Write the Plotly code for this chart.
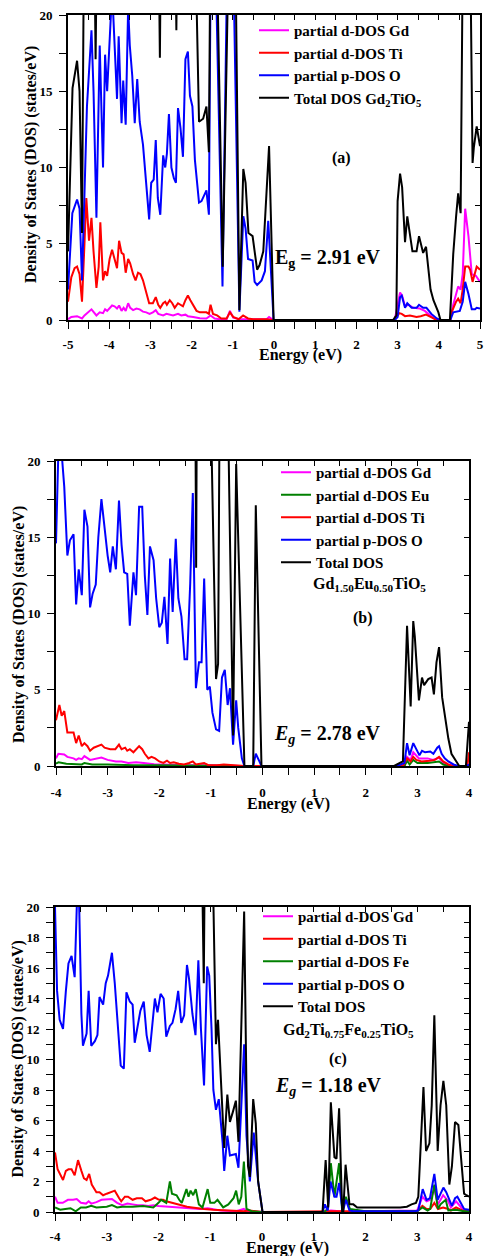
import plotly.graph_objects as go

W, H = 484, 1256
SERIF = "Liberation Serif"

# ---------------- Panel (a) Gd2TiO5 ----------------
a_gd_e = [-5.0, -4.92, -4.78, -4.66, -4.6, -4.49, -4.43, -4.31, -4.23, -4.15, -4.10, -4.05, -3.99, -3.93, -3.87, -3.81, -3.76, -3.70, -3.65, -3.60, -3.54, -3.49, -3.42, -3.34, -3.26, -3.18, -3.10, -3.02, -2.94, -2.87, -2.81, -2.69, -2.61, -2.53, -2.45, -2.33, -2.25, -2.15, -2.09, -1.96, -1.80, -1.64, -1.54, -1.44, -1.32, -1.15, -1.07, -0.99, -0.83, -0.18, -0.12, -0.02, 2.93, 3.06, 3.11, 3.18, 3.26, 3.38, 3.54, 3.66, 3.785, 3.91, 3.99, 4.28, 4.35, 4.47, 4.53, 4.58, 4.64, 4.72, 4.80, 4.90, 5.0]
a_gd = [0.05, 0.2, 0.25, 0.1, 0.3, 0.6, 0.7, 0.3, 0.5, 0.45, 0.7, 0.6, 0.8, 0.95, 0.9, 0.75, 0.95, 0.6, 0.8, 0.6, 1.1, 0.8, 0.65, 0.75, 0.7, 0.55, 0.5, 0.4, 0.5, 0.65, 0.4, 0.3, 0.4, 0.35, 0.3, 0.4, 0.3, 0.35, 0.25, 0.2, 0.12, 0.1, 0.3, 0.1, 0.05, 0.05, 0.6, 0.15, 0.05, 0.05, 0.2, 0.0, 0.0, 1.8, 1.6, 0.9, 1.0, 0.8, 0.75, 0.6, 0.3, 0.05, 0.0, 0.0, 1.0, 2.2, 2.0, 3.0, 7.3, 5.5, 3.0, 2.9, 2.5]

a_ti_e = [-5.0, -4.92, -4.84, -4.78, -4.72, -4.66, -4.6, -4.555, -4.49, -4.43, -4.38, -4.31, -4.255, -4.215, -4.15, -4.10, -4.05, -3.99, -3.93, -3.87, -3.81, -3.76, -3.70, -3.65, -3.60, -3.54, -3.49, -3.42, -3.36, -3.30, -3.24, -3.18, -3.10, -3.03, -2.94, -2.87, -2.81, -2.76, -2.69, -2.64, -2.60, -2.53, -2.47, -2.41, -2.33, -2.27, -2.21, -2.15, -2.09, -2.03, -1.96, -1.88, -1.80, -1.72, -1.64, -1.58, -1.54, -1.48, -1.38, -1.28, -1.15, -1.07, -0.99, -0.86, -0.75, -0.63, -0.51, -0.18, -0.02, 2.93, 3.04, 3.10, 3.18, 3.30, 3.46, 3.56, 3.69, 3.80, 3.91, 3.95, 4.28, 4.31, 4.42, 4.47, 4.53, 4.58, 4.64, 4.72, 4.76, 4.82, 4.85, 4.92, 5.0]
a_ti = [1.2, 2.8, 3.4, 3.5, 3.0, 1.2, 5.0, 8.0, 5.2, 6.7, 4.5, 2.1, 3.5, 6.4, 2.6, 3.2, 2.9, 4.0, 4.6, 4.0, 3.4, 5.2, 4.4, 4.3, 3.1, 4.0, 3.7, 3.0, 2.6, 3.1, 3.0, 2.6, 1.8, 1.1, 1.1, 1.5, 1.0, 0.8, 1.1, 1.2, 1.0, 1.3, 1.1, 0.8, 1.1, 1.0, 0.9, 1.3, 1.6, 1.3, 1.0, 0.6, 0.5, 0.5, 0.5, 0.4, 1.0, 0.4, 0.3, 0.1, 0.1, 0.5, 0.2, 0.05, 0.3, 0.1, 0.05, 0.05, 0.0, 0.0, 0.45, 0.4, 0.25, 0.3, 0.2, 0.25, 0.35, 0.2, 0.05, 0.0, 0.0, 0.5, 1.2, 1.4, 1.1, 2.0, 3.5, 3.5, 3.3, 2.5, 2.8, 3.5, 3.3]

a_o_e = [-5.0, -4.895, -4.78, -4.72, -4.66, -4.6, -4.54, -4.43, -4.38, -4.31, -4.23, -4.15, -4.10, -4.05, -3.95, -3.91, -3.81, -3.77, -3.70, -3.66, -3.60, -3.54, -3.50, -3.44, -3.38, -3.32, -3.26, -3.18, -3.10, -3.03, -2.98, -2.92, -2.87, -2.82, -2.76, -2.69, -2.64, -2.60, -2.55, -2.49, -2.43, -2.38, -2.33, -2.27, -2.21, -2.15, -2.09, -2.04, -1.98, -1.92, -1.82, -1.76, -1.64, -1.58, -1.52, -1.47, -1.25, -1.10, -1.03, -0.84, -0.745, -0.69, -0.63, -0.52, -0.47, -0.41, -0.30, -0.22, -0.14, -0.01, 2.93, 3.0, 3.06, 3.10, 3.18, 3.235, 3.34, 3.46, 3.52, 3.62, 3.70, 3.82, 3.95, 4.04, 4.28, 4.35, 4.51, 4.58, 4.64, 4.72, 4.80, 4.88, 4.92, 5.0]
a_o = [2.0, 7.0, 7.9, 7.3, 2.6, 9.0, 14.0, 19.0, 15.0, 6.7, 18.0, 10.0, 17.4, 15.0, 20.5, 20.5, 14.5, 18.6, 12.9, 15.7, 12.8, 20.5, 18.0, 16.0, 12.9, 15.8, 13.0, 11.5, 9.0, 6.6, 9.0, 9.2, 11.8, 8.0, 6.9, 10.8, 10.0, 10.9, 13.5, 10.0, 9.3, 9.0, 13.9, 12.6, 10.7, 17.1, 17.6, 14.7, 14.0, 10.5, 7.7, 7.8, 8.5, 6.9, 30, 30, 2.2, 30, 30, 0.55, 6.8, 6.0, 4.0, 3.9, 2.5, 2.3, 2.6, 3.2, 6.5, 0.0, 0.0, 0.2, 1.5, 1.6, 0.8, 1.1, 0.8, 0.8, 1.0, 0.8, 0.8, 0.4, 0.1, 0.0, 0.0, 0.5, 0.6, 1.2, 2.5, 1.7, 0.7, 0.7, 0.8, 0.75]

a_tot_e = [-5.0, -4.89, -4.78, -4.72, -4.66, -4.6, -4.38, -4.33, -4.28, -2.82, -2.77, -2.73, -2.42, -2.37, -2.33, -1.95, -1.82, -1.72, -1.64, -1.58, -1.53, -1.43, -1.245, -1.06, -0.96, -0.84, -0.745, -0.69, -0.62, -0.52, -0.41, -0.35, -0.26, -0.12, -0.01, 2.89, 2.97, 3.0, 3.06, 3.11, 3.18, 3.235, 3.36, 3.46, 3.52, 3.62, 3.69, 3.80, 3.87, 3.99, 4.04, 4.27, 4.35, 4.42, 4.47, 4.53, 4.60, 4.74, 4.82, 4.85, 4.92, 5.0]
a_tot = [4.5, 15.2, 17.0, 15.0, 5.7, 30, 30, 17.1, 30, 30, 17.2, 30, 30, 19.0, 30, 30, 13.0, 13.2, 14.0, 11.0, 30, 30, 3.5, 30, 30, 0.65, 9.9, 9.0, 5.7, 5.5, 3.3, 3.6, 4.5, 11.4, 0.0, 0.0, 0.3, 7.8, 9.6, 8.7, 5.1, 6.8, 4.5, 4.5, 5.5, 4.4, 4.8, 2.0, 1.3, 0.5, 0.0, 0.0, 4.3, 6.8, 8.3, 7.0, 30, 30, 10.3, 11.3, 12.7, 11.4]

# ---------------- Panel (b) Gd1.50Eu0.50TiO5 ----------------
b_gd_e = [-4.0, -3.955, -3.84, -3.78, -3.66, -3.61, -3.56, -3.50, -3.45, -3.39, -3.34, -3.12, -3.0, -2.84, -2.73, -2.6, -2.45, -2.3, -2.1, -1.9, -1.5, -1.0, -0.4, 2.75, 2.80, 2.87, 2.92, 3.03, 3.2, 3.3, 3.42, 3.5, 3.6, 3.7, 4.0]
b_gd = [0.5, 0.8, 0.75, 0.6, 0.5, 0.4, 0.5, 0.45, 0.65, 0.5, 0.4, 0.55, 0.4, 0.3, 0.3, 0.2, 0.25, 0.2, 0.12, 0.1, 0.05, 0.05, 0.0, 0.0, 0.6, 0.4, 0.9, 0.5, 0.5, 0.4, 0.55, 0.2, 0.05, 0.0, 0.0]

b_eu_e = [-4.0, -3.95, -3.8, -3.5, -3.45, -3.3, -3.0, -2.5, -2.0, -1.0, -0.5, 2.75, 2.80, 2.85, 2.92, 3.0, 3.2, 3.42, 3.5, 3.6, 4.0]
b_eu = [0.15, 0.25, 0.15, 0.1, 0.2, 0.1, 0.1, 0.05, 0.05, 0.02, 0.0, 0.0, 0.35, 0.1, 0.4, 0.2, 0.2, 0.3, 0.1, 0.0, 0.0]

b_ti_e = [-4.0, -3.975, -3.935, -3.89, -3.84, -3.78, -3.73, -3.66, -3.61, -3.56, -3.50, -3.45, -3.39, -3.34, -3.27, -3.21, -3.12, -3.06, -2.95, -2.85, -2.78, -2.73, -2.66, -2.62, -2.57, -2.50, -2.45, -2.39, -2.33, -2.28, -2.21, -2.15, -2.08, -2.0, -1.92, -1.85, -1.79, -1.72, -1.62, -1.52, -1.42, -1.35, -1.29, -1.21, -1.13, -1.05, -0.88, -0.75, -0.57, -0.35, 2.72, 2.80, 2.87, 2.92, 2.98, 3.08, 3.24, 3.34, 3.42, 3.50, 3.60, 3.69, 3.97, 4.0]
b_ti = [3.0, 3.4, 4.0, 3.3, 3.6, 2.2, 2.2, 2.2, 1.5, 2.0, 1.3, 1.5, 1.3, 1.0, 1.2, 1.3, 1.4, 1.2, 1.1, 1.1, 1.4, 1.1, 1.2, 1.0, 1.1, 0.9, 1.1, 1.3, 1.1, 0.8, 0.5, 0.6, 0.5, 0.3, 0.2, 0.35, 0.2, 0.25, 0.15, 0.1, 0.2, 0.3, 0.1, 0.15, 0.2, 0.05, 0.05, 0.1, 0.05, 0.0, 0.0, 0.5, 0.3, 0.6, 0.4, 0.3, 0.35, 0.4, 0.6, 0.3, 0.1, 0.0, 0.0, 0.9]

b_o_e = [-4.0, -3.955, -3.89, -3.84, -3.78, -3.73, -3.66, -3.61, -3.56, -3.50,
         -3.45, -3.39, -3.34, -3.29, -3.23, -3.18, -3.12, -3.06, -3.0, -2.95,
         -2.90, -2.84, -2.78, -2.73, -2.68, -2.62, -2.57, -2.50, -2.45, -2.39,
         -2.33, -2.28, -2.23, -2.18, -2.11, -2.06, -2.0, -1.95, -1.90, -1.84,
         -1.79, -1.74, -1.68, -1.63, -1.57, -1.51, -1.46, -1.40, -1.35, -1.29,
         -1.23, -1.18, -1.13, -1.07, -1.02, -0.97, -0.90, -0.84, -0.785, -0.73,
         -0.675, -0.63, -0.57, -0.51, -0.47, -0.40, -0.35, -0.18, -0.13, -0.06,
         -0.02, 2.60, 2.66, 2.75, 2.80, 2.85, 2.92, 2.97, 3.04, 3.09,
         3.15, 3.25, 3.31, 3.385, 3.42, 3.47, 3.53, 3.60, 3.70, 3.79,
         3.95, 4.0]
b_o = [14.6, 20.5, 20.5, 18.3, 13.8, 14.8, 15.2, 10.6, 12.9, 11.2,
       16.8, 15.7, 10.4, 11.3, 11.9, 15.0, 17.5, 15.5, 13.8, 12.7,
       14.4, 12.9, 17.4, 14.5, 12.7, 12.6, 9.2, 12.7, 11.2, 17.0,
       17.0, 12.5, 9.9, 14.4, 13.5, 11.0, 9.1, 9.4, 11.1, 8.0,
       13.6, 10.1, 14.9, 11.0, 9.8, 7.0, 7.0, 12.0, 17.9, 5.1,
       6.8, 6.8, 12.3, 5.0, 5.2, 3.5, 2.4, 2.3, 5.8, 6.3,
       4.0, 5.1, 1.4, 4.3, 2.5, 0.5, 0.0, 0.0, 0.8, 0.3,
       0.0, 0.0, 0.1, 0.2, 1.5, 0.7, 1.5, 1.2, 0.7, 1.0,
       0.9, 0.95, 0.8, 1.2, 1.3, 0.8, 0.5, 0.3, 0.1, 0.0,
       0.0, 0.1]

b_tot_e = [-4.0, -1.31, -1.285, -1.265, -1.04, -0.90, -0.86, -0.82, -0.70, -0.57, -0.51, -0.35, -0.18, -0.13, -0.02, 2.55, 2.66, 2.72, 2.80, 2.87, 2.92, 2.95, 3.03, 3.09, 3.13, 3.21, 3.275, 3.32, 3.37, 3.42, 3.48, 3.55, 3.60, 3.66, 3.72, 3.81, 3.94, 4.0]
b_tot = [30, 30, 13.0, 30, 30, 5.7, 6.7, 30, 30, 2.0, 19.8, 0.0, 0.0, 17.1, 0.0, 0.0, 0.2, 0.3, 9.2, 3.9, 9.5, 8.5, 4.3, 5.8, 5.3, 5.7, 5.8, 4.7, 6.8, 7.8, 4.5, 2.8, 1.8, 0.8, 0.5, 0.0, 0.0, 2.9]

# ---------------- Panel (c) Gd2Ti0.75Fe0.25TiO5 ----------------
c_gd_e = [-4.0, -3.95, -3.85, -3.75, -3.65, -3.58, -3.5, -3.4, -3.35, -3.3, -3.2, -3.1, -2.9, -2.8, -2.7, -2.6, -2.5, -2.4, -2.3, -2.2, -2.1, -2.0, -1.8, -1.6, -1.4, -1.2, -1.05, -0.8, -0.5, -0.35, -0.3, 0.0, 1.2, 1.33, 1.5, 1.6, 2.0, 3.0, 3.1, 3.18, 3.25, 3.33, 3.4, 3.5, 3.6, 3.65, 3.75, 3.82, 3.9, 4.0]
c_gd = [1.0, 0.6, 0.6, 0.8, 0.8, 0.85, 0.6, 0.55, 0.7, 0.55, 0.65, 0.8, 0.85, 0.6, 0.45, 0.55, 0.5, 0.45, 0.45, 0.4, 0.45, 0.4, 0.35, 0.3, 0.25, 0.2, 0.25, 0.1, 0.05, 0.2, 0.05, 0.0, 0.0, 0.1, 0.05, 0.0, 0.05, 0.1, 1.0, 0.7, 0.8, 1.5, 0.5, 1.1, 0.7, 0.3, 0.7, 0.4, 0.1, 0.05]

c_ti_e = [-4.0, -3.95, -3.845, -3.79, -3.74, -3.68, -3.62, -3.555, -3.49, -3.44, -3.39, -3.34, -3.29, -3.2, -3.14, -3.07, -3.0, -2.845, -2.76, -2.72, -2.65, -2.59, -2.5, -2.42, -2.32, -2.25, -2.15, -2.07, -1.99, -1.91, -1.85, -1.75, -1.65, -1.55, -1.45, -1.35, -1.25, -1.12, -0.95, -0.65, -0.35, -0.25, 0.0, 1.3, 1.6, 3.0, 3.1, 3.18, 3.25, 3.33, 3.4, 3.5, 3.6, 3.65, 3.75, 3.82, 3.9, 4.0]
c_ti = [3.9, 2.8, 2.1, 2.7, 2.8, 2.8, 2.4, 3.4, 2.7, 2.2, 2.1, 2.5, 1.8, 1.3, 1.3, 1.1, 1.2, 1.4, 0.9, 0.7, 1.0, 1.0, 0.8, 0.9, 0.9, 0.7, 0.8, 0.95, 0.8, 0.8, 0.7, 0.6, 0.5, 0.4, 0.35, 0.3, 0.25, 0.2, 0.15, 0.1, 0.05, 0.1, 0.0, 0.05, 0.05, 0.05, 0.4, 0.2, 0.2, 0.6, 0.2, 0.3, 0.2, 0.1, 0.3, 0.2, 0.05, 0.05]

c_fe_e = [-4.0, -3.9, -3.8, -3.7, -3.6, -3.5, -3.4, -3.3, -3.2, -3.0, -2.9, -2.8, -2.7, -2.5, -2.3, -2.1, -2.0, -1.95, -1.85, -1.78, -1.74, -1.65, -1.6, -1.55, -1.46, -1.42, -1.38, -1.33, -1.28, -1.22, -1.15, -1.05, -1.0, -0.92, -0.86, -0.8, -0.75, -0.65, -0.55, -0.5, -0.45, -0.4, -0.35, -0.3, -0.2, 0.0, 1.2, 1.27, 1.33, 1.4, 1.49, 1.55, 1.62, 1.7, 2.0, 3.0, 3.1, 3.2, 3.25, 3.33, 3.4, 3.45, 3.55, 3.6, 3.75, 3.9, 4.0]
c_fe = [0.3, 0.15, 0.2, 0.25, 0.05, 0.3, 0.3, 0.4, 0.3, 0.35, 0.45, 0.3, 0.35, 0.35, 0.4, 0.3, 0.6, 0.8, 0.6, 2.0, 1.2, 1.1, 0.8, 0.6, 1.5, 1.0, 1.4, 1.1, 1.5, 0.5, 0.3, 1.5, 0.6, 0.6, 0.8, 0.5, 0.3, 0.5, 0.9, 1.4, 0.5, 1.0, 3.3, 0.2, 0.05, 0.0, 0.0, 0.2, 3.2, 1.0, 3.2, 0.0, 1.0, 0.2, 0.05, 0.05, 0.3, 0.1, 0.2, 1.8, 0.2, 0.5, 0.8, 0.1, 0.15, 0.05, 0.05]

c_o_e = [-4.0, -3.96, -3.91, -3.845, -3.79, -3.74, -3.68, -3.62, -3.575, -3.535,
         -3.49, -3.46, -3.39, -3.35, -3.30, -3.23, -3.18, -3.14, -3.07, -3.02,
         -2.975, -2.90, -2.845, -2.78, -2.73, -2.67, -2.62, -2.555, -2.50, -2.46,
         -2.41, -2.35, -2.285, -2.23, -2.17, -2.12, -2.07, -2.02, -1.96, -1.90,
         -1.85, -1.78, -1.73, -1.67, -1.62, -1.56, -1.505, -1.45, -1.41, -1.345,
         -1.285, -1.23, -1.18, -1.12, -1.06, -1.02, -0.975, -0.94, -0.89, -0.835,
         -0.80, -0.76, -0.73, -0.67, -0.62, -0.505, -0.455, -0.40, -0.345, -0.30,
         -0.235, -0.16, -0.075, 0.01, 1.17, 1.215, 1.27, 1.325, 1.40, 1.44,
         1.49, 1.56, 1.62, 1.69, 1.765, 2.96, 3.02, 3.105, 3.18, 3.245,
         3.33, 3.395, 3.45, 3.505, 3.56, 3.635, 3.67, 3.73, 3.775, 3.84,
         3.905, 4.0]
c_o = [20.0, 14.5, 12.6, 12.0, 14.5, 16.3, 16.8, 15.4, 20.5, 20.5,
       13.0, 10.9, 11.7, 14.5, 10.9, 11.2, 11.6, 14.1, 13.6, 15.0,
       15.5, 17.0, 15.0, 12.0, 9.6, 9.4, 14.4, 13.8, 13.6, 11.1,
       12.0, 13.2, 13.8, 11.6, 10.5, 12.5, 14.0, 13.1, 14.3, 14.0,
       11.5, 12.2, 12.4, 13.3, 14.5, 12.4, 12.9, 16.2, 15.3, 13.0,
       11.6, 16.5, 12.0, 8.3, 16.1, 15.5, 12.0, 8.0, 6.7, 7.4,
       6.0, 4.5, 2.7, 5.0, 3.7, 3.8, 2.9, 7.0, 11.0, 5.0,
       2.0, 5.2, 2.0, 0.0, 0.0, 0.5, 0.1, 2.0, 1.0, 1.0,
       1.9, 0.0, 0.8, 0.1, 0.05, 0.05, 0.1, 1.5, 0.8, 0.9,
       2.5, 0.8, 1.2, 1.6, 1.3, 0.6, 0.4, 0.9, 1.0, 0.6,
       0.2, 0.15]

c_tot_e = [-4.0, -1.19, -1.125, -1.09, -0.99, -0.89, -0.85, -0.73, -0.67, -0.62, -0.56, -0.505, -0.455, -0.40, -0.345, -0.30, -0.27, -0.235, -0.17, -0.12, -0.075, 0.01, 1.17, 1.23, 1.28, 1.33, 1.40, 1.44, 1.49, 1.55, 1.57, 1.615, 1.69, 1.765, 1.84, 2.67, 2.8, 2.89, 2.975, 3.02, 3.12, 3.17, 3.235, 3.28, 3.33, 3.395, 3.45, 3.505, 3.56, 3.62, 3.67, 3.73, 3.795, 3.86, 3.905, 3.95, 4.0]
c_tot = [30, 30, 15.0, 30, 30, 11.0, 12.6, 4.2, 7.7, 5.9, 6.6, 7.3, 4.6, 12.0, 19.7, 8.0, 3.0, 2.3, 7.4, 5.8, 2.0, 0.0, 0.0, 3.4, 0.3, 7.2, 3.6, 3.5, 6.8, 0.0, 0.0, 3.1, 0.5, 0.5, 0.3, 0.3, 0.35, 0.5, 0.6, 1.0, 8.2, 4.0, 4.5, 7.0, 12.9, 4.0, 7.0, 8.6, 7.0, 1.8, 3.0, 5.9, 5.7, 3.0, 1.2, 1.1, 1.0]

# labels / texts
a_names = ["partial d-DOS Gd", "partial d-DOS Ti", "partial p-DOS O", "Total DOS Gd<sub>2</sub>TiO<sub>5</sub>"]
b_names = ["partial d-DOS Gd", "partial d-DOS Eu", "partial d-DOS Ti", "partial p-DOS O", "Total DOS"]
c_names = ["partial d-DOS Gd", "partial d-DOS Ti", "partial d-DOS Fe", "partial p-DOS O", "Total DOS"]
x_ticks_a = [-5, -4, -3, -2, -1, 0, 1, 2, 3, 4, 5]
x_ticks_bc = [-4, -3, -2, -1, 0, 1, 2, 3, 4]
y_ticks_ab = [0, 5, 10, 15, 20]
y_ticks_c = [0, 2, 4, 6, 8, 10, 12, 14, 16, 18, 20]

MAG, RED, BLUE, GRN, BLK = "#FF00FF", "#FF0000", "#0000FF", "#008000", "#000000"

# ---------------- geometry (pixels) ----------------
PANELS = {
    "a": dict(l=68, r=480, t=15, b=320, xr=[-5, 5], xt=x_ticks_a, yt=y_ticks_ab, yminor=2.5, xstand=5),
    "b": dict(l=56, r=469, t=461, b=766, xr=[-4, 4], xt=x_ticks_bc, yt=y_ticks_ab, yminor=2.5, xstand=7),
    "c": dict(l=55, r=469, t=907, b=1212, xr=[-4, 4], xt=x_ticks_bc, yt=y_ticks_c, yminor=1, xstand=5),
}

def px_x(p):
    return p / W

def px_y(p):
    return 1 - p / H

def btxt(v):
    return f"<b>{v}</b>"

fig = go.Figure()

series = {
    "a": [(a_gd_e, a_gd, MAG), (a_ti_e, a_ti, RED), (a_o_e, a_o, BLUE), (a_tot_e, a_tot, BLK)],
    "b": [(b_gd_e, b_gd, MAG), (b_eu_e, b_eu, GRN), (b_ti_e, b_ti, RED), (b_o_e, b_o, BLUE), (b_tot_e, b_tot, BLK)],
    "c": [(c_gd_e, c_gd, MAG), (c_ti_e, c_ti, RED), (c_fe_e, c_fe, GRN), (c_o_e, c_o, BLUE), (c_tot_e, c_tot, BLK)],
}
names = {"a": a_names, "b": b_names, "c": c_names}

for i, key in enumerate(["a", "b", "c"]):
    xa = "x" if i == 0 else f"x{i+1}"
    ya = "y" if i == 0 else f"y{i+1}"
    lg = "legend" if i == 0 else f"legend{i+1}"
    for j, ((ex, ey, col), nm) in enumerate(zip(series[key], names[key])):
        assert len(ex) == len(ey), (key, j, len(ex), len(ey))
        fig.add_trace(go.Scatter(x=ex, y=ey, mode="lines", name=nm,
                                 line=dict(color=col, width=2),
                                 xaxis=xa, yaxis=ya, legend=lg,
                                 hoverinfo="skip"))
    # empty trace to host the mirrored inside-tick axes
    fig.add_trace(go.Scatter(x=[], y=[], xaxis=f"x{i+4}", yaxis=f"y{i+4}",
                             showlegend=False, hoverinfo="skip"))

tickfont = dict(family=SERIF, size=13, color="black")
layout = dict(width=W, height=H, margin=dict(l=0, r=0, t=0, b=0, autoexpand=False), autosize=False,
              paper_bgcolor="white", plot_bgcolor="white", showlegend=True)

for i, key in enumerate(["a", "b", "c"]):
    P = PANELS[key]
    xs = "xaxis" if i == 0 else f"xaxis{i+1}"
    ys = "yaxis" if i == 0 else f"yaxis{i+1}"
    xid = "x" if i == 0 else f"x{i+1}"
    yid = "y" if i == 0 else f"y{i+1}"
    layout[xs] = dict(domain=[px_x(P["l"]), px_x(P["r"])], range=P["xr"], anchor=yid,
                      tickmode="array", tickvals=P["xt"], ticktext=[btxt(v) for v in P["xt"]],
                      ticks="outside", ticklen=7, tickwidth=1.3, tickcolor="black",
                      minor=dict(dtick=0.5, tick0=0, ticks="outside", ticklen=7, tickwidth=1.3, tickcolor="black", showgrid=False),
                      showline=True, linecolor="black", linewidth=1.6, mirror=True,
                      showgrid=False, zeroline=False, tickfont=tickfont, ticklabelstandoff=P["xstand"],
                      automargin=False, fixedrange=True)
    layout[ys] = dict(domain=[px_y(P["b"]), px_y(P["t"])], range=[0, 20], anchor=xid,
                      tickmode="array", tickvals=P["yt"], ticktext=[btxt(v) for v in P["yt"]],
                      ticks="outside", ticklen=7, tickwidth=1.3, tickcolor="black",
                      minor=dict(dtick=P["yminor"], tick0=0, ticks="outside", ticklen=7, tickwidth=1.3, tickcolor="black", showgrid=False),
                      showline=True, linecolor="black", linewidth=1.6, mirror=True,
                      showgrid=False, zeroline=False, tickfont=tickfont, ticklabelstandoff=4,
                      automargin=False, fixedrange=True)
    layout[f"xaxis{i+4}"] = dict(overlaying=xid, side="top", anchor=f"y{i+4}", range=P["xr"],
                                 dtick=0.5, tick0=0, ticks="inside", ticklen=5, tickwidth=1.2,
                                 tickcolor="black", showticklabels=False, showline=False,
                                 showgrid=False, zeroline=False, fixedrange=True)
    layout[f"yaxis{i+4}"] = dict(overlaying=yid, side="right", anchor=f"x{i+4}", range=[0, 20],
                                 dtick=P["yminor"], tick0=0, ticks="inside", ticklen=5, tickwidth=1.2,
                                 tickcolor="black", showticklabels=False, showline=False,
                                 showgrid=False, zeroline=False, fixedrange=True)

legfont = dict(family=SERIF, size=15, color="black", weight="bold")
leg_common = dict(xanchor="left", yanchor="top", bgcolor="rgba(0,0,0,0)", borderwidth=0,
                  font=legfont, tracegroupgap=0, itemclick=False, itemdoubleclick=False)
layout["legend"] = dict(x=px_x(254), y=px_y(14), **leg_common)
layout["legend2"] = dict(x=px_x(276), y=px_y(456), **leg_common)
layout["legend3"] = dict(x=px_x(258), y=px_y(900), **leg_common)

fig.update_layout(**layout)

def note(text, x, y, size=16, angle=0):
    fig.add_annotation(text=f"<b>{text}</b>", x=px_x(x), y=px_y(y), xref="paper", yref="paper",
                       xanchor="center", yanchor="middle", showarrow=False, textangle=angle,
                       font=dict(family=SERIF, size=size, color="black"))

YT = "Density of States (DOS) (states/eV)"
note(YT, 31, 165, 16, -90)
note(YT, 19, 625, 16, -90)
note(YT, 17.5, 1059, 16, -90)
note("Energy (eV)", 300, 355, 16)
note("Energy (eV)", 288, 804, 16)
note("Energy (eV)", 287, 1248, 16)

note("(a)", 341, 158, 16)
note("E<sub>g</sub> = 2.91 eV", 328, 258, 20)
note("Gd<sub>1.50</sub>Eu<sub>0.50</sub>TiO<sub>5</sub>", 369, 584, 16)
note("(b)", 363, 618, 16)
note("<i>E</i><sub><i>g</i></sub> = 2.78 eV", 327, 735, 20)
note("Gd<sub>2</sub>Ti<sub>0.75</sub>Fe<sub>0.25</sub>TiO<sub>5</sub>", 348, 1030, 16)
note("(c)", 338, 1059, 16)
note("<i>E</i><sub><i>g</i></sub> = 1.18 eV", 328, 1086, 20)

fig.write_html("out.html")
